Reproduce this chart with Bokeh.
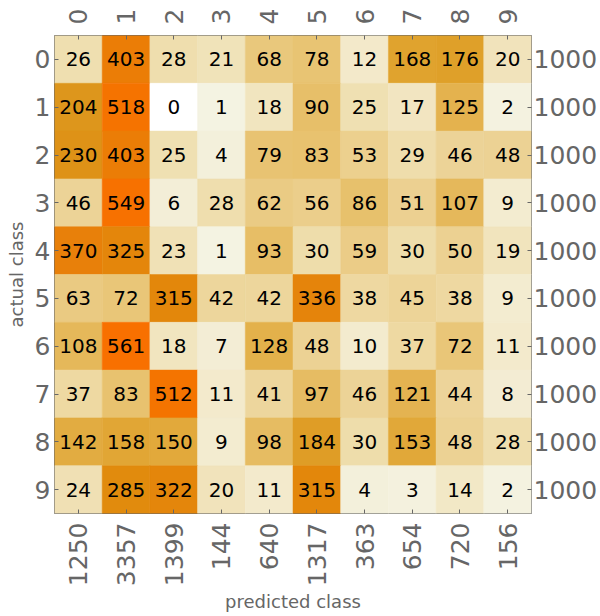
import math
from bokeh.plotting import figure
from bokeh.models import ColumnDataSource, LinearAxis, FixedTicker, Range1d
from bokeh.core.properties import value
from bokeh.embed import file_html
from bokeh.resources import INLINE

# Confusion counts: rows = actual class, columns = predicted class
classes = ["0", "1", "2", "3", "4", "5", "6", "7", "8", "9"]
row_0 = [26, 403, 28, 21, 68, 78, 12, 168, 176, 20]
row_1 = [204, 518, 0, 1, 18, 90, 25, 17, 125, 2]
row_2 = [230, 403, 25, 4, 79, 83, 53, 29, 46, 48]
row_3 = [46, 549, 6, 28, 62, 56, 86, 51, 107, 9]
row_4 = [370, 325, 23, 1, 93, 30, 59, 30, 50, 19]
row_5 = [63, 72, 315, 42, 42, 336, 38, 45, 38, 9]
row_6 = [108, 561, 18, 7, 128, 48, 10, 37, 72, 11]
row_7 = [37, 83, 512, 11, 41, 97, 46, 121, 44, 8]
row_8 = [142, 158, 150, 9, 98, 184, 30, 153, 48, 28]
row_9 = [24, 285, 322, 20, 11, 315, 4, 3, 14, 2]
rows = [row_0, row_1, row_2, row_3, row_4, row_5, row_6, row_7, row_8, row_9]

row_totals = [sum(r) for r in rows]
col_totals = [sum(r[j] for r in rows) for j in range(len(classes))]

# colour ramp: cream -> gold -> orange
stops = [
    (1, "#f4f3e2"), (5, "#f3efd9"), (12, "#f3e9ca"), (26, "#efdfb0"),
    (50, "#ecd192"), (70, "#e9c77a"), (100, "#e6bb60"), (130, "#e3b04a"),
    (170, "#e0a22c"), (205, "#dd961c"), (290, "#e18a0c"), (370, "#e8800a"),
    (450, "#f07800"), (561, "#f87000"),
]


def hex_to_rgb(h):
    h = h.lstrip("#")
    return tuple(int(h[i:i + 2], 16) for i in (0, 2, 4))


def cell_color(v):
    if v <= 0:
        return "#ffffff"
    if v <= stops[0][0]:
        return stops[0][1]
    for (v0, c0), (v1, c1) in zip(stops[:-1], stops[1:]):
        if v <= v1:
            t = (v - v0) / (v1 - v0)
            a, b = hex_to_rgb(c0), hex_to_rgb(c1)
            rgb = [round(a[k] + (b[k] - a[k]) * t) for k in range(3)]
            return "#%02x%02x%02x" % tuple(rgb)
    return stops[-1][1]


xs, ys, vals, cols = [], [], [], []
for i, r in enumerate(rows):
    for j, v in enumerate(r):
        xs.append(j + 0.5)
        ys.append(i + 0.5)
        vals.append(str(v))
        cols.append(cell_color(v))

src = ColumnDataSource(dict(x=xs, y=ys, text=vals, color=cols))

n = len(classes)
p = figure(
    width=600, height=616,
    x_range=Range1d(0, n), y_range=Range1d(n, 0),
    x_axis_location="above",
    output_backend="svg", toolbar_location=None,
    min_border_left=54, min_border_right=68,
    min_border_top=35, min_border_bottom=103,
)
p.background_fill_color = "white"
p.border_fill_color = "white"
p.outline_line_color = "#666666"
p.outline_line_width = 1
p.grid.visible = False

p.rect(x="x", y="y", width=1, height=1, source=src,
       fill_color="color", line_color="color", line_width=0.5)
p.text(x="x", y="y", text="text", source=src,
       text_align="center", text_baseline="middle",
       text_font=value("DejaVu Sans"), text_font_size="20px", text_color="black")

ticks = [k + 0.5 for k in range(n)]

bottom_axis = LinearAxis()
right_axis = LinearAxis()
p.add_layout(bottom_axis, "below")
p.add_layout(right_axis, "right")

top_axis = p.xaxis[0]
left_axis = p.yaxis[0]

top_axis.major_label_overrides = {t: c for t, c in zip(ticks, classes)}
left_axis.major_label_overrides = {t: c for t, c in zip(ticks, classes)}
bottom_axis.major_label_overrides = {t: str(s) for t, s in zip(ticks, col_totals)}
right_axis.major_label_overrides = {t: str(s) for t, s in zip(ticks, row_totals)}

for ax in (top_axis, left_axis, bottom_axis, right_axis):
    ax.ticker = FixedTicker(ticks=ticks)
    ax.axis_line_color = None
    ax.major_tick_in = 4
    ax.major_tick_out = 0
    ax.major_tick_line_color = "#666666"
    ax.minor_tick_line_color = None
    ax.major_label_text_font = "DejaVu Sans"
    ax.major_label_text_font_size = "25px"
    ax.major_label_text_color = "#666666"
    ax.axis_label_text_font = "DejaVu Sans"
    ax.axis_label_text_font_size = "18px"
    ax.axis_label_text_font_style = "normal"
    ax.axis_label_text_color = "#666666"

top_axis.major_label_orientation = math.pi / 2
bottom_axis.major_label_orientation = math.pi / 2
top_axis.major_label_standoff = 11
bottom_axis.major_label_standoff = 9
left_axis.major_label_standoff = 4
right_axis.major_label_standoff = 2

left_axis.axis_label = "actual class"
left_axis.axis_label_standoff = 5
bottom_axis.axis_label = "predicted class"
bottom_axis.axis_label_standoff = 2

open("out.html", "w").write(file_html(p, INLINE))
